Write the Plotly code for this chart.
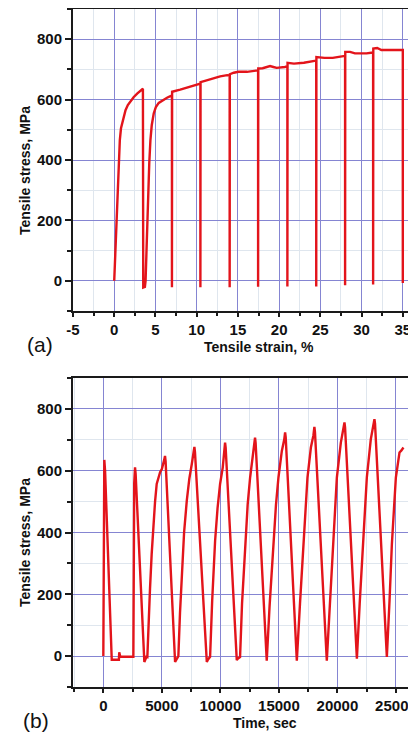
import plotly.graph_objects as go

# ---------------- data: (a) stress vs strain ----------------
strain_a = [0, 0.18, 0.36, 0.52, 0.68, 0.82, 0.96, 1.15, 1.37, 1.65, 1.97, 2.35, 2.78, 3.15, 3.48,
            3.52, 3.72, 3.80,
            4.07, 4.25, 4.39, 4.55, 4.79, 5.05, 5.4, 5.9, 6.4, 7.0,
            7.0, 7.02, 8.0, 9.0, 9.6, 10.45,
            10.45, 10.47, 11.0, 11.6, 12.3, 12.85, 13.7, 14.0,
            14.0, 14.02, 14.5, 15.07, 16.1, 16.8, 17.45,
            17.45, 17.47, 18.0, 18.9, 19.3, 19.7, 20.7, 21.0,
            21.0, 21.02, 21.8, 23.0, 24.3, 24.5,
            24.5, 24.52, 25.5, 26.5, 27.8, 28.0,
            28.0, 28.02, 28.6, 29.2, 30.6, 31.3, 31.4,
            31.4, 31.42, 31.9, 32.4, 34.6, 35.0,
            35.0]
stress_a = [0, 140, 268, 380, 466, 505, 521, 545, 565, 582, 595, 608, 620, 629, 636,
            -22, -20, 0,
            268, 390, 466, 515, 554, 575, 589, 598, 606, 614,
            -21, 626, 633, 641, 647, 653,
            -21, 658, 662, 667, 673, 677, 681, 680,
            -21, 684, 689, 692, 692, 694, 697,
            -20, 703, 704, 711, 708, 705, 708, 710,
            -19, 722, 719, 722, 728, 729,
            -19, 741, 738, 738, 744, 745,
            -15, 758, 758, 753, 753, 756, 756,
            -12, 769, 771, 764, 764, 764,
            -7]
strain_ticks = [-5, 0, 5, 10, 15, 20, 25, 30, 35]
strain_tick_text = ["-5", "0", "5", "10", "15", "20", "25", "30", "35"]

# ---------------- data: (b) stress vs time ----------------
time_b = [0, 85, 150, 720, 1330, 1360, 1450, 2565, 2640, 2710, 2760,
          3505, 3600, 3680, 3760, 3850, 3990, 4130, 4275, 4420, 4560, 4700, 4850, 5000, 5130, 5200, 5270, 5320,
          6130, 6220, 6330, 6410, 6550, 6700, 6900, 7130, 7350, 7555, 7700, 7780, 7830,
          8840, 8930, 9050, 9120, 9300, 9550, 9760, 9975, 10200, 10330, 10400, 10450,
          11400, 11500, 11600, 11680, 11850, 12110, 12330, 12540, 12750, 12900, 12960, 13010,
          13960, 14200, 14530, 14750, 14960, 15250, 15450, 15530, 15580,
          16530, 16800, 17100, 17440, 17730, 17950, 18030, 18080,
          19090, 19350, 19600, 19950, 20290, 20500, 20600, 20650,
          21660, 21900, 22170, 22510, 22850, 23050, 23160, 23210,
          24220, 24450, 24650, 24990, 25300, 25450, 25640]
stress_b = [0, 635, 600, -12, -12, 12, -2, -2, 560, 611, 590,
            -19, -10, -2, -3, 100, 220, 330, 428, 500, 557, 580, 595, 605, 620, 635, 648, 630,
            -19, -12, -2, 0, 140, 267, 400, 503, 575, 621, 650, 677, 660,
            -19, -12, -2, -2, 180, 374, 480, 557, 610, 650, 691, 675,
            -13, -8, -3, -3, 170, 363, 490, 578, 640, 680, 707, 690,
            -15, 160, 363, 490, 578, 664, 700, 724, 708,
            -15, 170, 363, 578, 675, 715, 742, 725,
            -15, 170, 363, 578, 691, 730, 756, 740,
            -8, 170, 363, 578, 702, 740, 767, 752,
            -3, 180, 363, 578, 659, 665, 675]

# ---------------- axes ----------------
xa_range = [-5, 36.6]
xb_range = [-2590, 26710]
y_range = [-100, 900]

# the page body has an 8px margin, so the figure is drawn 8px in from the window corner
OFF = 8
WIN_W, WIN_H = 416, 740
W, H = WIN_W - OFF, WIN_H - OFF


def fx(px):
    return (px - OFF) / W


def fy(py):
    return 1 - (py - OFF) / H


RED = "#e3141b"
MAJOR = "#8585d2"
MINOR = "#dfe6ee"
AXC = "#1a1a1a"
FONT = "Liberation Sans, Arial, sans-serif"

fig = go.Figure()
fig.add_trace(go.Scatter(x=strain_a, y=stress_a, mode="lines",
                         line=dict(color=RED, width=2.4), xaxis="x", yaxis="y",
                         showlegend=False, hoverinfo="skip"))
fig.add_trace(go.Scatter(x=time_b, y=stress_b, mode="lines",
                         line=dict(color=RED, width=2.4), xaxis="x2", yaxis="y2",
                         showlegend=False, hoverinfo="skip"))

tickfont = dict(family=FONT, size=15, color="#111", weight="bold")


def xax(anchor, rng, dtick, minor_dtick, **extra):
    d = dict(range=rng, domain=[fx(73), 1], anchor=anchor,
             showline=True, linecolor=AXC, linewidth=2, mirror=True,
             showgrid=True, gridcolor=MAJOR, gridwidth=1, zeroline=False,
             ticks="outside", ticklen=4, tickwidth=1.5, tickcolor=AXC,
             tick0=0, dtick=dtick, tickfont=tickfont, automargin=False,
             ticklabeloverflow="allow",
             minor=dict(dtick=minor_dtick, tick0=0, showgrid=True, gridcolor=MINOR,
                        gridwidth=1, ticks="outside", ticklen=3, tickwidth=1.5, tickcolor=AXC),
             fixedrange=True)
    d.update(extra)
    return d


def yax(domain, anchor):
    return dict(range=y_range, domain=domain, anchor=anchor,
                showline=True, linecolor=AXC, linewidth=2, mirror=False,
                showgrid=True, gridcolor=MAJOR, gridwidth=1, zeroline=False,
                ticks="outside", ticklen=6, tickwidth=1.5, tickcolor=AXC,
                tick0=0, dtick=200, tickfont=tickfont, automargin=False,
                minor=dict(dtick=100, tick0=0, showgrid=True, gridcolor=MINOR,
                           gridwidth=1, ticks="outside", ticklen=4, tickwidth=1.5, tickcolor=AXC),
                fixedrange=True)


fig.update_layout(
    width=W, height=H, template="none",
    margin=dict(l=0, r=0, t=0, b=0, pad=0),
    paper_bgcolor="white", plot_bgcolor="white",
    xaxis=xax("y", xa_range, 5, 2.5, tickmode="array",
              tickvals=strain_ticks, ticktext=strain_tick_text),
    yaxis=yax([fy(311), fy(9)], "x"),
    xaxis2=xax("y2", xb_range, 5000, 2500, tickformat="d"),
    yaxis2=yax([fy(687), fy(378)], "x2"),
)

titlefont = dict(family=FONT, size=14, color="#111", weight="bold")
labfont = dict(family=FONT, size=21, color="#111")


def ann(text, px, py, font, angle=0):
    fig.add_annotation(text=text, x=fx(px), y=fy(py), xref="paper", yref="paper",
                       showarrow=False, font=font, textangle=angle,
                       xanchor="center", yanchor="middle")


ann("Tensile stress, MPa", 25, 171, titlefont, -90)
ann("Tensile strain, %", 259, 347, titlefont)
ann("(a)", 40, 344, labfont)
ann("Tensile stress, MPa", 25, 543, titlefont, -90)
ann("Time, sec", 265, 723, titlefont)
ann("(b)", 36, 720, labfont)

fig.write_html("out.html")
